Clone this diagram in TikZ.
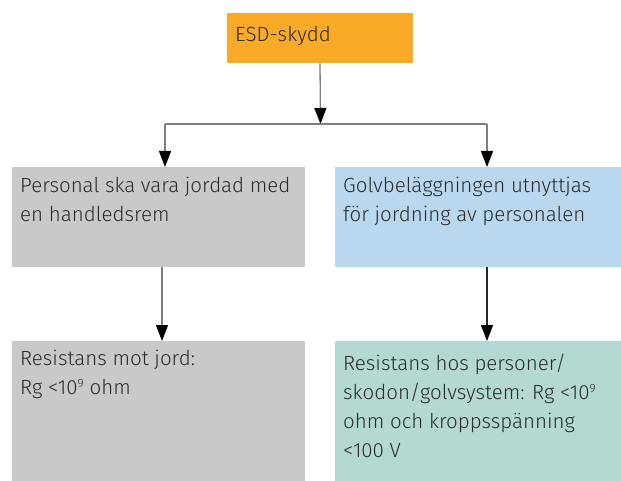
\documentclass[tikz,border=0pt]{standalone}
\usepackage{fontspec}
\setmainfont{Fira Sans}[UprightFont=* Light]
\usetikzlibrary{arrows.meta}
\definecolor{cOrange}{HTML}{F9AA26}
\definecolor{cGrey}{HTML}{C8C9CB}
\definecolor{cBlue}{HTML}{B9D7EF}
\definecolor{cGreen}{HTML}{B4D9D2}
\definecolor{cText}{HTML}{2B2B2B}
\definecolor{cLine}{HTML}{7F7F7F}
\newcommand{\supnine}{\raisebox{0.62ex}{\fontsize{12bp}{12bp}\selectfont 9}}
\begin{document}
\begin{tikzpicture}[x=1bp,y=-1bp,
  box/.style={draw=none,inner sep=0pt,outer sep=0pt,anchor=north west},
  txt/.style={anchor=base west,inner sep=0pt,text=cText,font=\fontsize{20.5bp}{29bp}\selectfont,align=left},
  conn/.style={draw=cLine,line width=1.3bp},
  arr/.style={conn,-{Triangle[width=12bp,length=16bp,fill=black,color=black]}}]
\useasboundingbox (0,0) rectangle (621,481);
% boxes
\node[box,fill=cOrange,minimum width=186bp,minimum height=50bp] (top) at (227,13) {};
\node[box,fill=cGrey,minimum width=293bp,minimum height=100bp] (pl) at (12,167) {};
\node[box,fill=cBlue,minimum width=286bp,minimum height=100bp] (pr) at (335,167) {};
\node[box,fill=cGrey,minimum width=293bp,minimum height=140bp] (rl) at (12,341) {};
\node[box,fill=cGreen,minimum width=286bp,minimum height=140bp] (rr) at (335,341) {};
% texts (anchor = baseline of the last line)
\node[txt] (ttop) at (235,42) {ESD-skydd};
\node[txt] (tpl) at (20,222) {Personal ska vara jordad med\\en handledsrem};
\node[txt] (tpr) at (343,222) {Golvbeläggningen utnyttjas\\för jordning av personalen};
\node[txt] (trl) at (20,394) {Resistans mot jord:\\Rg <10\supnine{} ohm};
\node[txt] (trr) at (343,457) {Resistans hos personer/\\skodon/golvsystem: Rg <10\supnine\\ohm och kroppsspänning\\<100 V};
% connectors
\coordinate (split) at (320.5,124);
\coordinate (hl) at (165,124);
\coordinate (hr) at (487,124);
\draw[arr] (top.south) -- (split);
\draw[conn] (hl) -- (hr);
\draw[arr] (hl) -- (hl |- pl.north);
\draw[arr] (hr) -- (hr |- pr.north);
\draw[arr] (162,267) coordinate (a1) -- (a1 |- rl.north);
\draw[arr,draw=black!85] (487,267) coordinate (a2) -- (a2 |- rr.north);
\end{tikzpicture}
\end{document}
